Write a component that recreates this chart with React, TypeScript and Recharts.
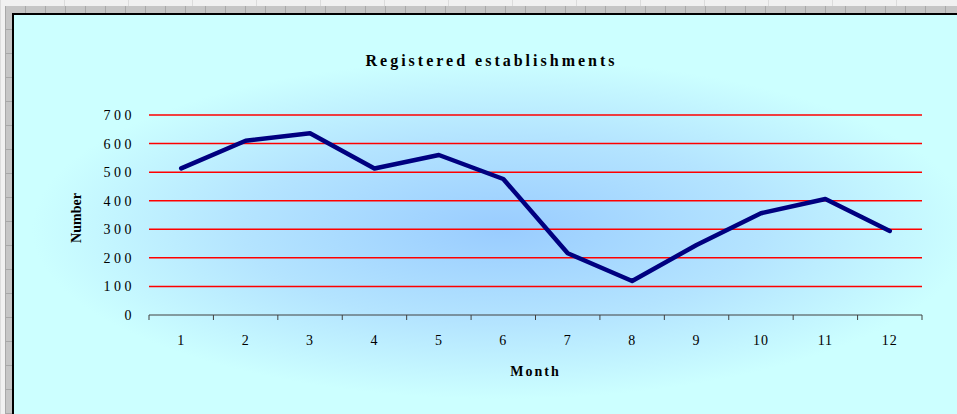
import { LineChart, Line, XAxis, YAxis, CartesianGrid } from 'recharts';

const months = [1, 2, 3, 4, 5, 6, 7, 8, 9, 10, 11, 12];
const establishments = [513, 610, 636, 513, 560, 476, 216, 119, 245, 356, 406, 294];
const yTicks = [0, 100, 200, 300, 400, 500, 600, 700];
const gridValues = [100, 200, 300, 400, 500, 600, 700];

const data = months.map((m, i) => ({ month: m, value: establishments[i] }));
// boundary ticks between months plus the month centres for labels
const xTicks = [...months.map((m) => m - 0.5), 12.5, ...months].sort((a, b) => a - b);

const serif = "'Liberation Serif', 'Times New Roman', serif";

const MonthTick = (props: any) => {
  const { x, y, payload } = props;
  if (Number.isInteger(payload.value)) {
    return (
      <text x={x} y={y + 30} textAnchor="middle" fontFamily={serif} fontSize={14} fill="#000" letterSpacing={1}>
        {payload.value}
      </text>
    );
  }
  return <line x1={x} x2={x} y1={y} y2={y + 5} stroke="#404040" strokeWidth={1} />;
};

const NumberLabel = () => (
  <text
    x={76}
    y={218}
    transform="rotate(-90 76 218)"
    textAnchor="middle"
    dominantBaseline="central"
    fontFamily={serif}
    fontWeight="bold"
    fontSize={14}
    fill="#000"
  >
    Number
  </text>
);

const MonthLabel = (props: any) => {
  const { viewBox } = props;
  return (
    <text
      x={viewBox.x + viewBox.width / 2}
      y={376}
      textAnchor="middle"
      fontFamily={serif}
      fontWeight="bold"
      fontSize={14}
      fill="#000"
      letterSpacing={2}
    >
      Month
    </text>
  );
};

export default function App() {
  return (
    <div
      style={{
        position: 'fixed',
        left: 0,
        top: 0,
        width: 957,
        height: 414,
        overflow: 'hidden',
        background: '#f1f1f1',
        backgroundImage: 'repeating-linear-gradient(90deg, #dcdcdc 0 1px, transparent 1px 64px)',
      }}
    >
      <div
        style={{
          position: 'absolute',
          left: 5,
          top: 6,
          right: 0,
          bottom: 0,
          background: '#c6c6c6',
          backgroundImage:
            'repeating-linear-gradient(90deg, #a8a8a8 0 1px, transparent 1px 20px), repeating-linear-gradient(0deg, #a8a8a8 0 1px, transparent 1px 24px)',
        }}
      />
      <div
        style={{
          position: 'absolute',
          left: 12,
          top: 13,
          width: 960,
          height: 420,
          borderLeft: '2px solid #000',
          borderTop: '2px solid #000',
          background: 'radial-gradient(ellipse 470px 170px at 488px 214px, #99ccff 0%, #b4e4ff 55%, #ccffff 100%)',
        }}
      />
      <div
        style={{
          position: 'absolute',
          left: 0,
          width: 983,
          top: 52,
          textAlign: 'center',
          fontFamily: serif,
          fontWeight: 'bold',
          fontSize: 16,
          letterSpacing: 3,
          color: '#000',
        }}
      >
        Registered establishments
      </div>
      <div style={{ position: 'absolute', left: 0, top: 0 }}>
        <LineChart width={957} height={414} data={data} margin={{ top: 115, right: 35, bottom: 0, left: 0 }}>
          <CartesianGrid horizontal vertical={false} horizontalValues={gridValues} stroke="#ff0000" strokeWidth={1.5} />
          <XAxis
            dataKey="month"
            type="number"
            domain={[0.5, 12.5]}
            ticks={xTicks}
            interval={0}
            tickLine={false}
            tickSize={0}
            tickMargin={0}
            tick={<MonthTick />}
            axisLine={{ stroke: '#404040', strokeWidth: 1 }}
            label={<MonthLabel />}
            height={99}
          />
          <YAxis
            domain={[0, 700]}
            ticks={yTicks}
            interval={0}
            width={149}
            axisLine={false}
            tickLine={false}
            tickSize={0}
            tickMargin={14}
            tick={{ fontFamily: serif, fontSize: 14, fill: '#000', letterSpacing: 3.5 }}
            label={<NumberLabel />}
          />
          <Line
            type="linear"
            dataKey="value"
            stroke="#000080"
            strokeWidth={4.5}
            dot={false}
            activeDot={false}
            strokeLinejoin="round"
            strokeLinecap="round"
            isAnimationActive={false}
          />
        </LineChart>
      </div>
    </div>
  );
}
